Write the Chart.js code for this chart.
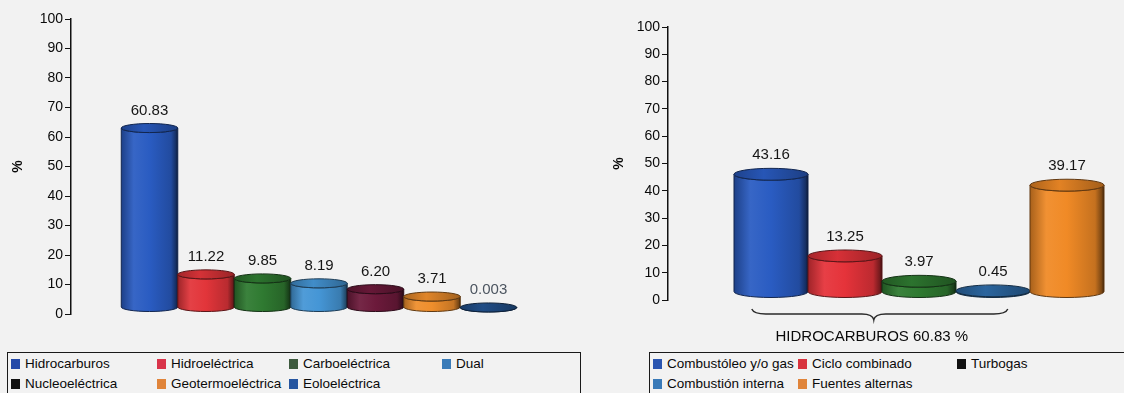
<!DOCTYPE html>
<html>
<head>
<meta charset="utf-8">
<script src="https://cdn.jsdelivr.net/npm/chart.js@4.4.0/dist/chart.umd.min.js"></script>
<style>
  body { margin:0; width:1124px; height:393px; overflow:hidden; position:relative;
         background:#f2f2f2; font-family:"Liberation Sans", Arial, sans-serif; }
  #cIzq { position:absolute; left:0; top:0; }
  #cDer { position:absolute; left:590px; top:0; }
  .leyenda { position:absolute; border:1px solid #1a1a1a; box-sizing:border-box; }
  .item { position:absolute; font-size:13.5px; color:#0a0a0a; line-height:16px; white-space:nowrap; }
  .item i { display:inline-block; width:9px; height:10px; margin-right:5px; vertical-align:-1px; }
</style>
</head>
<body>
<canvas id="cIzq" width="590" height="350"></canvas>
<canvas id="cDer" width="534" height="350"></canvas>
<div class="leyenda" id="leyIzq" style="left:7px; top:352px; width:574px; height:60px;"></div>
<div class="leyenda" id="leyDer" style="left:649px; top:352px; width:500px; height:60px;"></div>

<script>
// Generación bruta por tipo de planta (%)
const categoriasIzq = ['Hidrocarburos', 'Hidroeléctrica', 'Carboeléctrica', 'Dual',
                       'Nucleoeléctrica', 'Geotermoeléctrica', 'Eoloeléctrica'];
const valoresIzq    = [60.83, 11.22, 9.85, 8.19, 6.20, 3.71, 0.003];
const etiquetasIzq  = ['60.83', '11.22', '9.85', '8.19', '6.20', '3.71', '0.003'];

// Desglose de hidrocarburos y fuentes alternas (%)
const categoriasDer = ['Combustóleo y/o gas', 'Ciclo combinado', 'Turbogas',
                       'Combustión interna', 'Fuentes alternas'];
const valoresDer    = [43.16, 13.25, 3.97, 0.45, 39.17];
const etiquetasDer  = ['43.16', '13.25', '3.97', '0.45', '39.17'];

// Barras que forman el grupo de hidrocarburos (primera y última)
const grupoHidrocarburos = [0, 3];

// Escala vertical en porcentaje
const ejeY = { min: 0, max: 100, paso: 10 };

// Colores de cilindros y de la leyenda
const coloresIzq   = ['#2a5cc2', '#e2353a', '#2f7a31', '#4596d6', '#6c1a3b', '#ee8e2c', '#22528f'];
const leyendaIzqC  = ['#2348a8', '#d9344a', '#3d5a3e', '#3a7bb8', '#111111', '#e0843a', '#2656a0'];
const textoIzqC    = ['#151515', '#151515', '#151515', '#151515', '#151515', '#151515', '#4c5560'];
const coloresDer   = ['#2a5cc2', '#e5333a', '#2f7a31', '#2e6ba8', '#f08a26'];
const leyendaDerC  = ['#2a55b0', '#d8343e', '#111111', '#3a7ab8', '#e0843a'];
const textoDerC    = ['#151515', '#151515', '#151515', '#151515', '#151515'];

const FUENTE = '"Liberation Sans", Arial, sans-serif';

function tono(hex, t) {
  const n = parseInt(hex.slice(1), 16);
  let r = n >> 16, g = (n >> 8) & 255, b = n & 255;
  const dest = t > 0 ? 255 : 0, k = Math.abs(t);
  r = Math.round(r + (dest - r) * k);
  g = Math.round(g + (dest - g) * k);
  b = Math.round(b + (dest - b) * k);
  return `rgb(${r},${g},${b})`;
}

// Dibuja cada barra como un cilindro con tapa elíptica y su valor encima
const cilindros = {
  id: 'cilindros',
  afterDatasetsDraw(chart, args, opts) {
    const ctx = chart.ctx;
    const meta = chart.getDatasetMeta(0);
    const pos = [];
    ctx.save();
    meta.data.forEach((bar, i) => {
      const w = bar.width, cx = bar.x;
      const x0 = cx - w / 2, x1 = cx + w / 2;
      const rx = w / 2, ry = w * opts.proporcion;
      const d = ry + opts.extra;
      const yTop = bar.y - d, yBot = bar.base - d;
      const c = opts.colores[i];

      const g = ctx.createLinearGradient(x0, 0, x1, 0);
      g.addColorStop(0, tono(c, -0.3));
      g.addColorStop(0.22, tono(c, 0.06));
      g.addColorStop(0.5, c);
      g.addColorStop(0.88, tono(c, -0.18));
      g.addColorStop(0.97, tono(c, -0.5));
      g.addColorStop(1, tono(c, -0.75));

      ctx.beginPath();
      ctx.moveTo(x0, yTop);
      ctx.lineTo(x0, yBot);
      ctx.ellipse(cx, yBot, rx, ry, 0, Math.PI, 0, true);
      ctx.lineTo(x1, yTop);
      ctx.ellipse(cx, yTop, rx, ry, 0, 0, Math.PI, false);
      ctx.closePath();
      ctx.fillStyle = g;
      ctx.fill();
      ctx.lineWidth = 1;
      ctx.strokeStyle = tono(c, -0.6);
      ctx.stroke();

      const gt = ctx.createLinearGradient(x0, 0, x1, 0);
      gt.addColorStop(0, tono(c, -0.28));
      gt.addColorStop(0.4, tono(c, -0.06));
      gt.addColorStop(1, tono(c, -0.32));
      ctx.beginPath();
      ctx.ellipse(cx, yTop, rx, ry, 0, 0, Math.PI * 2);
      ctx.fillStyle = gt;
      ctx.fill();
      ctx.strokeStyle = tono(c, -0.6);
      ctx.stroke();

      pos.push({ x: cx, y: yTop - ry - opts.separacion });
    });
    ctx.font = `15px ${FUENTE}`;
    ctx.textAlign = 'center';
    ctx.textBaseline = 'middle';
    pos.forEach((p, i) => {
      ctx.fillStyle = opts.colorTexto[i];
      ctx.fillText(opts.etiquetas[i], p.x, p.y);
    });
    ctx.restore();
  }
};

// Llave bajo las barras de hidrocarburos con su total
const llave = {
  id: 'llave',
  afterDraw(chart, args, opts) {
    if (!opts.activa) return;
    const ctx = chart.ctx;
    const meta = chart.getDatasetMeta(0);
    const a = meta.data[grupoHidrocarburos[0]], b = meta.data[grupoHidrocarburos[1]];
    const xa = a.x - a.width / 2 + a.width * 0.24;
    const xb = b.x + b.width / 2 - b.width * 0.3;
    const base = chart.scales.y.getPixelForValue(0);
    const y0 = base + 9, y1 = base + 14, y2 = base + 20;
    const xm = (xa + xb) / 2 - 6;
    ctx.save();
    ctx.beginPath();
    ctx.moveTo(xa, y0);
    ctx.quadraticCurveTo(xa + 2, y1, xa + 14, y1);
    ctx.lineTo(xm - 12, y1);
    ctx.quadraticCurveTo(xm - 1, y1, xm, y2);
    ctx.quadraticCurveTo(xm + 1, y1, xm + 12, y1);
    ctx.lineTo(xb - 14, y1);
    ctx.quadraticCurveTo(xb - 2, y1, xb, y0);
    ctx.lineWidth = 1.4;
    ctx.strokeStyle = '#2a2a2a';
    ctx.stroke();
    ctx.font = `15px ${FUENTE}`;
    ctx.fillStyle = '#0a0a0a';
    ctx.textAlign = 'center';
    ctx.textBaseline = 'middle';
    ctx.fillText('HIDROCARBUROS ' + valoresIzq[0].toFixed(2) + ' %', xm - 2, base + 37);
    ctx.restore();
  }
};

function configuracion(valores, colores, etiquetas, colorTexto, d) {
  return {
    type: 'bar',
    data: {
      datasets: [{
        data: valores.map((v, i) => ({ x: i, y: v })),
        backgroundColor: 'rgba(0,0,0,0)',
        borderWidth: 0,
        barThickness: 'flex',
        barPercentage: 1,
        categoryPercentage: 1
      }]
    },
    options: {
      responsive: false,
      animation: false,
      devicePixelRatio: 1,
      layout: { padding: { top: d.arriba, right: 10, bottom: d.abajo, left: 0 } },
      plugins: {
        legend: { display: false },
        tooltip: { enabled: false },
        cilindros: { colores, etiquetas, colorTexto, proporcion: 0.08, extra: 2, separacion: 13 },
        llave: { activa: d.llave }
      },
      scales: {
        x: { type: 'linear', min: d.xmin, max: d.xmax, offset: false, display: false },
        y: {
          min: ejeY.min, max: ejeY.max,
          ticks: { stepSize: ejeY.paso, color: '#0a0a0a', padding: 2, font: { family: FUENTE, size: 14 } },
          grid: { drawOnChartArea: false, drawTicks: true, tickLength: 6, color: '#111', lineWidth: 1 },
          border: { display: true, color: '#111', width: 1.5 },
          title: { display: true, text: '%', color: '#0a0a0a',
                   font: { family: FUENTE, size: 14, weight: 'bold' },
                   padding: { top: d.titulo, bottom: 0 } },
          afterFit(s) { s.width = d.anchoEje; }
        }
      }
    },
    plugins: [cilindros, llave]
  };
}

new Chart(document.getElementById('cIzq'),
  configuracion(valoresIzq, coloresIzq, etiquetasIzq, textoIzqC,
    { arriba: 19, abajo: 36, xmin: -1.39, xmax: 7.62, anchoEje: 71, titulo: 10, llave: false }));

new Chart(document.getElementById('cDer'),
  configuracion(valoresDer, coloresDer, etiquetasDer, textoDerC,
    { arriba: 27, abajo: 50, xmin: -1.392, xmax: 4.635, anchoEje: 78, titulo: 21, llave: true }));

// Leyendas
function leyenda(idCaja, nombres, colores, columnas, filaTop) {
  const caja = document.getElementById(idCaja);
  const izq = caja.offsetLeft + 1;
  nombres.forEach((n, i) => {
    const el = document.createElement('div');
    el.className = 'item';
    const col = columnas[i];
    el.style.left = (col.x - izq) + 'px';
    el.style.top = (filaTop[col.fila]) + 'px';
    const sw = document.createElement('i');
    sw.style.background = colores[i];
    el.appendChild(sw);
    el.appendChild(document.createTextNode(n));
    caja.appendChild(el);
  });
}
leyenda('leyIzq', categoriasIzq, leyendaIzqC,
  [{ x: 11, fila: 0 }, { x: 157, fila: 0 }, { x: 289, fila: 0 }, { x: 442, fila: 0 },
   { x: 11, fila: 1 }, { x: 157, fila: 1 }, { x: 289, fila: 1 }], [3, 23]);
leyenda('leyDer', categoriasDer, leyendaDerC,
  [{ x: 653, fila: 0 }, { x: 798, fila: 0 }, { x: 957, fila: 0 },
   { x: 653, fila: 1 }, { x: 798, fila: 1 }], [3, 23]);
</script>
</body>
</html>
